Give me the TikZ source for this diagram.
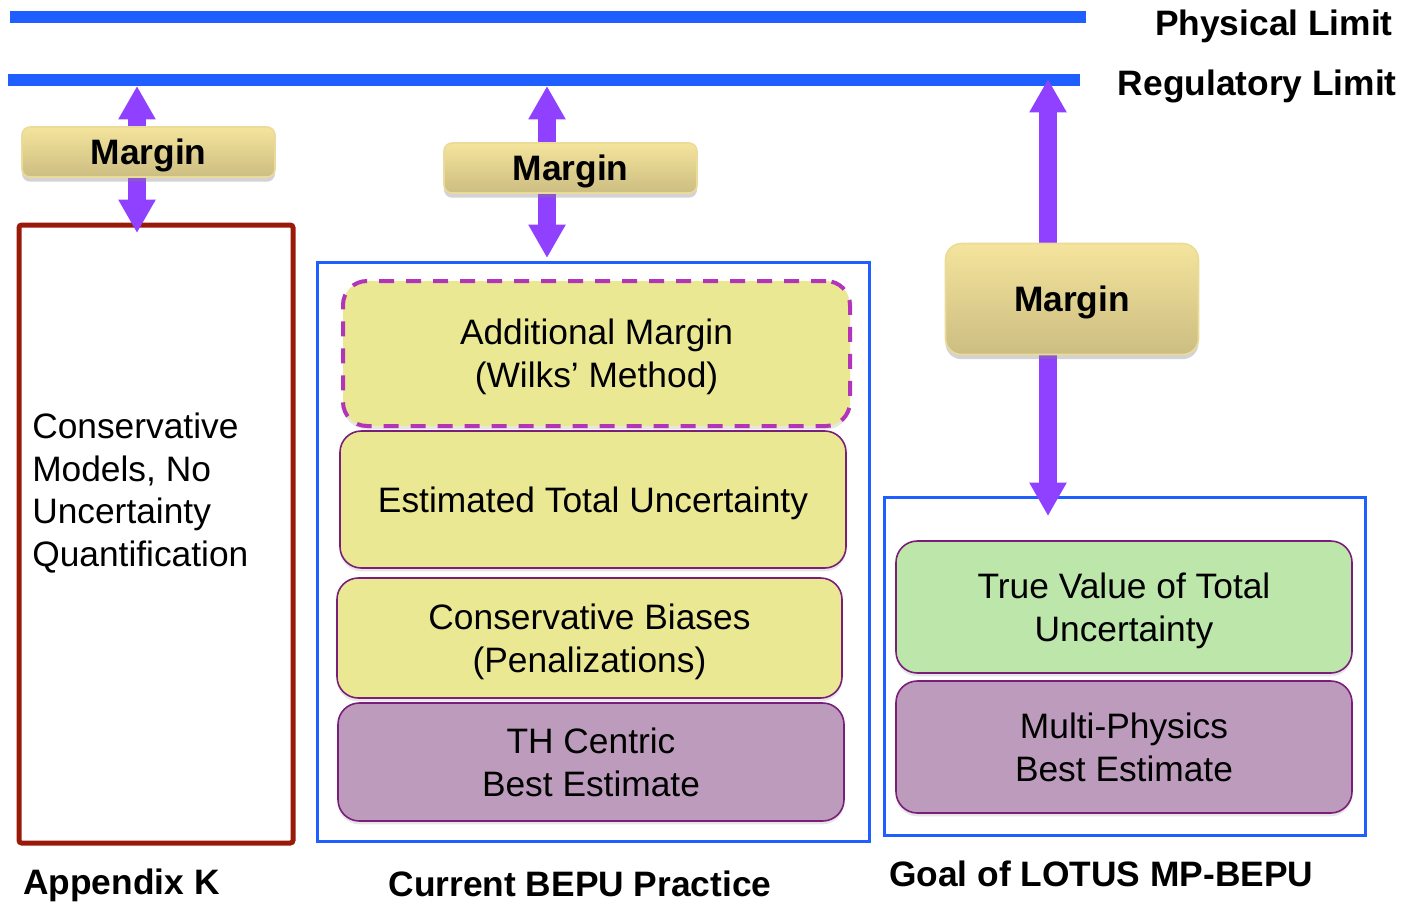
\documentclass[tikz,border=0pt]{standalone}
\usepackage{fontspec}
\setmainfont{Liberation Sans}
\usetikzlibrary{arrows.meta,shadows}

\definecolor{limitblue}{HTML}{1F5EFF}
\definecolor{arrowviolet}{HTML}{9040FF}
\definecolor{appkred}{HTML}{9A1A0A}
\definecolor{margintop}{HTML}{F4E49C}
\definecolor{marginbot}{HTML}{CCBD82}
\definecolor{marginedge}{HTML}{EADB9A}
\definecolor{uncyellow}{HTML}{EBE894}
\definecolor{truegreen}{HTML}{BCE6AA}
\definecolor{bemauve}{HTML}{BD9BBC}
\definecolor{layeredge}{HTML}{7A1E7A}
\definecolor{wilksdash}{HTML}{B234B8}

\newcommand{\bigtext}{\fontsize{26.5}{32}\selectfont}

\begin{document}
\begin{tikzpicture}[x=0.75pt,y=-0.75pt,
  limitline/.style={draw=limitblue,line width=9pt},
  limitlabel/.style={font=\bfseries\bigtext,inner sep=0pt},
  collabel/.style={font=\bfseries\bigtext,inner sep=0pt},
  marginarrow/.style={draw=arrowviolet,line width=13.5pt,
    -{Triangle[width=26.25pt,length=25pt]}},
  marginbox/.style={draw=marginedge,line width=1.2pt,rounded corners=6pt,
    top color=margintop,bottom color=marginbot,
    drop shadow={opacity=0.35,shadow xshift=0pt,shadow yshift=-3.5pt},
    font=\bfseries\bigtext,text depth=0pt,inner sep=0pt},
  groupbox/.style={draw=limitblue,line width=2.25pt,inner sep=0pt},
  layer/.style={draw=layeredge,line width=1.2pt,rounded corners=16pt,
    drop shadow={opacity=0.2,shadow xshift=0pt,shadow yshift=-2.5pt},
    font=\bigtext,align=center,text depth=0pt,inner sep=0pt},
  wilks/.style={layer,draw=wilksdash,line width=3pt,
    dash pattern=on 11.25pt off 9pt,rounded corners=18pt}
]
\useasboundingbox (0,0) rectangle (1407,901);

% limit lines
\coordinate (phys-w) at (10,17);
\coordinate (phys-e) at (1086,17);
\coordinate (reg-w) at (8,80);
\coordinate (reg-e) at (1080,80);
\draw[limitline] (phys-w) -- (phys-e);
\draw[limitline] (reg-w) -- (reg-e);
\node[limitlabel,anchor=base east] (physlabel) at (1393,35) {Physical Limit};
\node[limitlabel,anchor=base east] (reglabel) at (1397,95) {Regulatory Limit};

% arrow end points
\coordinate (a1-top) at (137,86);
\coordinate (a1-bot) at (137,233);
\coordinate (a2-top) at (547,86);
\coordinate (a2-bot) at (547,258);
\coordinate (a3-top) at (1048,79);
\coordinate (a3-bot) at (1048,516);

% column 1: Appendix K
\node[draw=appkred,line width=3.75pt,rounded corners=2pt,inner sep=0pt,
  minimum width=274*0.75pt,minimum height=618*0.75pt] (appk) at (156,534) {};
\node[anchor=west,align=left,font=\bigtext,inner sep=0pt] (appktext) at (32,493)
  {Conservative\\Models, No\\Uncertainty\\Quantification};
\draw[marginarrow] (a1-top |- 0,152) -- (a1-top);
\draw[marginarrow] (a1-top |- 0,152) -- (a1-bot);
\node[marginbox,minimum width=253*0.75pt,minimum height=50*0.75pt] (m1) at (148.5,152) {Margin};
\node[collabel,anchor=base west] (lab1) at (23,894) {Appendix K};

% column 2: current BEPU practice
\node[groupbox,minimum width=552*0.75pt,minimum height=579*0.75pt] (bepu) at (593,551.5) {};
\draw[marginarrow] (a2-top |- 0,168) -- (a2-top);
\draw[marginarrow] (a2-top |- 0,168) -- (a2-bot);
\node[marginbox,minimum width=253*0.75pt,minimum height=50*0.75pt] (m2) at (570.5,168) {Margin};
\node[wilks,fill=uncyellow,minimum width=507*0.75pt,minimum height=145*0.75pt] (wilksbox) at (596.5,353.5)
  {Additional Margin\\(Wilks’ Method)};
\node[layer,fill=uncyellow,minimum width=506*0.75pt,minimum height=137*0.75pt] (etu) at (593,499.5)
  {Estimated Total Uncertainty};
\node[layer,fill=uncyellow,minimum width=505*0.75pt,minimum height=120*0.75pt] (cbias) at (589.5,638)
  {Conservative Biases\\(Penalizations)};
\node[layer,fill=bemauve,minimum width=506*0.75pt,minimum height=118*0.75pt] (thbe) at (591,762)
  {TH Centric\\Best Estimate};
\node[collabel,anchor=base] (lab2) at (580,896) {Current BEPU Practice};

% column 3: LOTUS MP-BEPU
\node[groupbox,minimum width=481*0.75pt,minimum height=338*0.75pt] (lotus) at (1124.5,666) {};
\draw[marginarrow] (a3-top |- 0,299) -- (a3-top);
\draw[marginarrow] (a3-top |- 0,299) -- (a3-bot);
\node[marginbox,rounded corners=12pt,minimum width=253*0.75pt,minimum height=111*0.75pt] (m3) at (1072,299) {Margin};
\node[layer,fill=truegreen,minimum width=456*0.75pt,minimum height=132*0.75pt] (truev) at (1124,607)
  {True Value of Total\\Uncertainty};
\node[layer,fill=bemauve,minimum width=456*0.75pt,minimum height=132*0.75pt] (mpbe) at (1124,747)
  {Multi-Physics\\Best Estimate};
\node[collabel,anchor=base west] (lab3) at (889,886) {Goal of LOTUS MP-BEPU};
\end{tikzpicture}
\end{document}
